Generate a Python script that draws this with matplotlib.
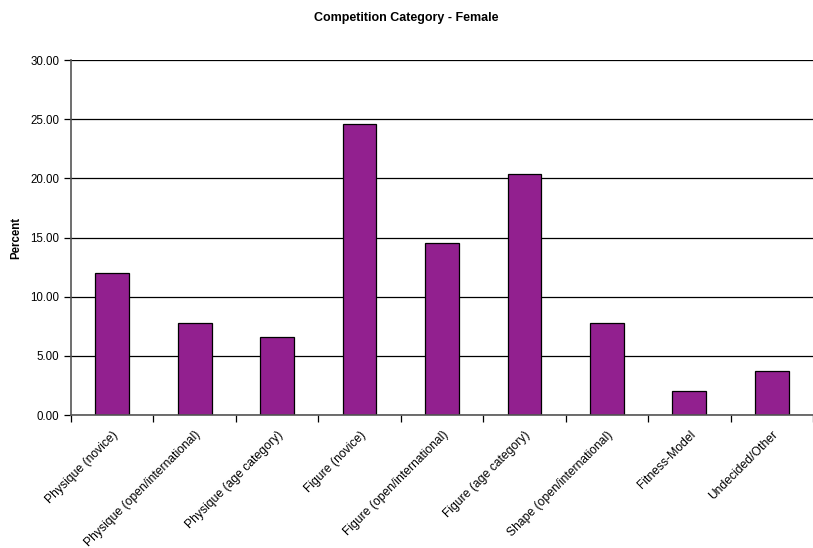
import numpy as np
import matplotlib.pyplot as plt

categories = [
    "Physique (novice)",
    "Physique (open/international)",
    "Physique (age category)",
    "Figure (novice)",
    "Figure (open/international)",
    "Figure (age category)",
    "Shape (open/international)",
    "Fitness-Model",
    "Undecided/Other",
]
percent = [12.0, 7.8, 6.6, 24.6, 14.5, 20.4, 7.8, 2.05, 3.7]
yticks = [0, 5, 10, 15, 20, 25, 30]

plt.rcParams["font.family"] = ["Liberation Sans", "DejaVu Sans"]

fig = plt.figure(figsize=(8.13, 5.48), dpi=100)
ax = fig.add_axes([0.0873, 0.2427, 0.9127, 0.6478])

x = np.arange(len(categories))
ax.set_axisbelow(True)
ax.yaxis.grid(True, color="black", linewidth=0.9)
ax.bar(x, percent, width=0.41, color="#92208F", edgecolor="black", linewidth=0.9)

ax.set_xlim(-0.5, len(categories) - 0.5)
ax.set_ylim(0, 30)
ax.set_yticks(yticks)
ax.set_yticklabels([f"{v:.2f}" for v in yticks], fontsize=8.3)

# category labels under the bars, tick marks on the boundaries
ax.set_xticks(x)
ax.set_xticklabels(categories, rotation=45, ha="right", rotation_mode="anchor", fontsize=8.7)
ax.tick_params(axis="x", length=0, pad=10)
ax.set_xticks(np.arange(len(categories) + 1) - 0.5, minor=True)
ax.tick_params(axis="x", which="minor", length=5, width=0.9, color="black")
ax.tick_params(axis="y", length=5, width=0.9, color="black")

for side in ("top", "right"):
    ax.spines[side].set_visible(False)
for side in ("left", "bottom"):
    ax.spines[side].set_color("#555555")
    ax.spines[side].set_linewidth(1.2)

ax.set_ylabel("Percent", fontsize=8.3, fontweight="bold", labelpad=6)
fig.text(0.5, 0.968, "Competition Category - Female", ha="center", va="center",
         fontsize=9, fontweight="bold")

fig.savefig("out.png", dpi=100)
